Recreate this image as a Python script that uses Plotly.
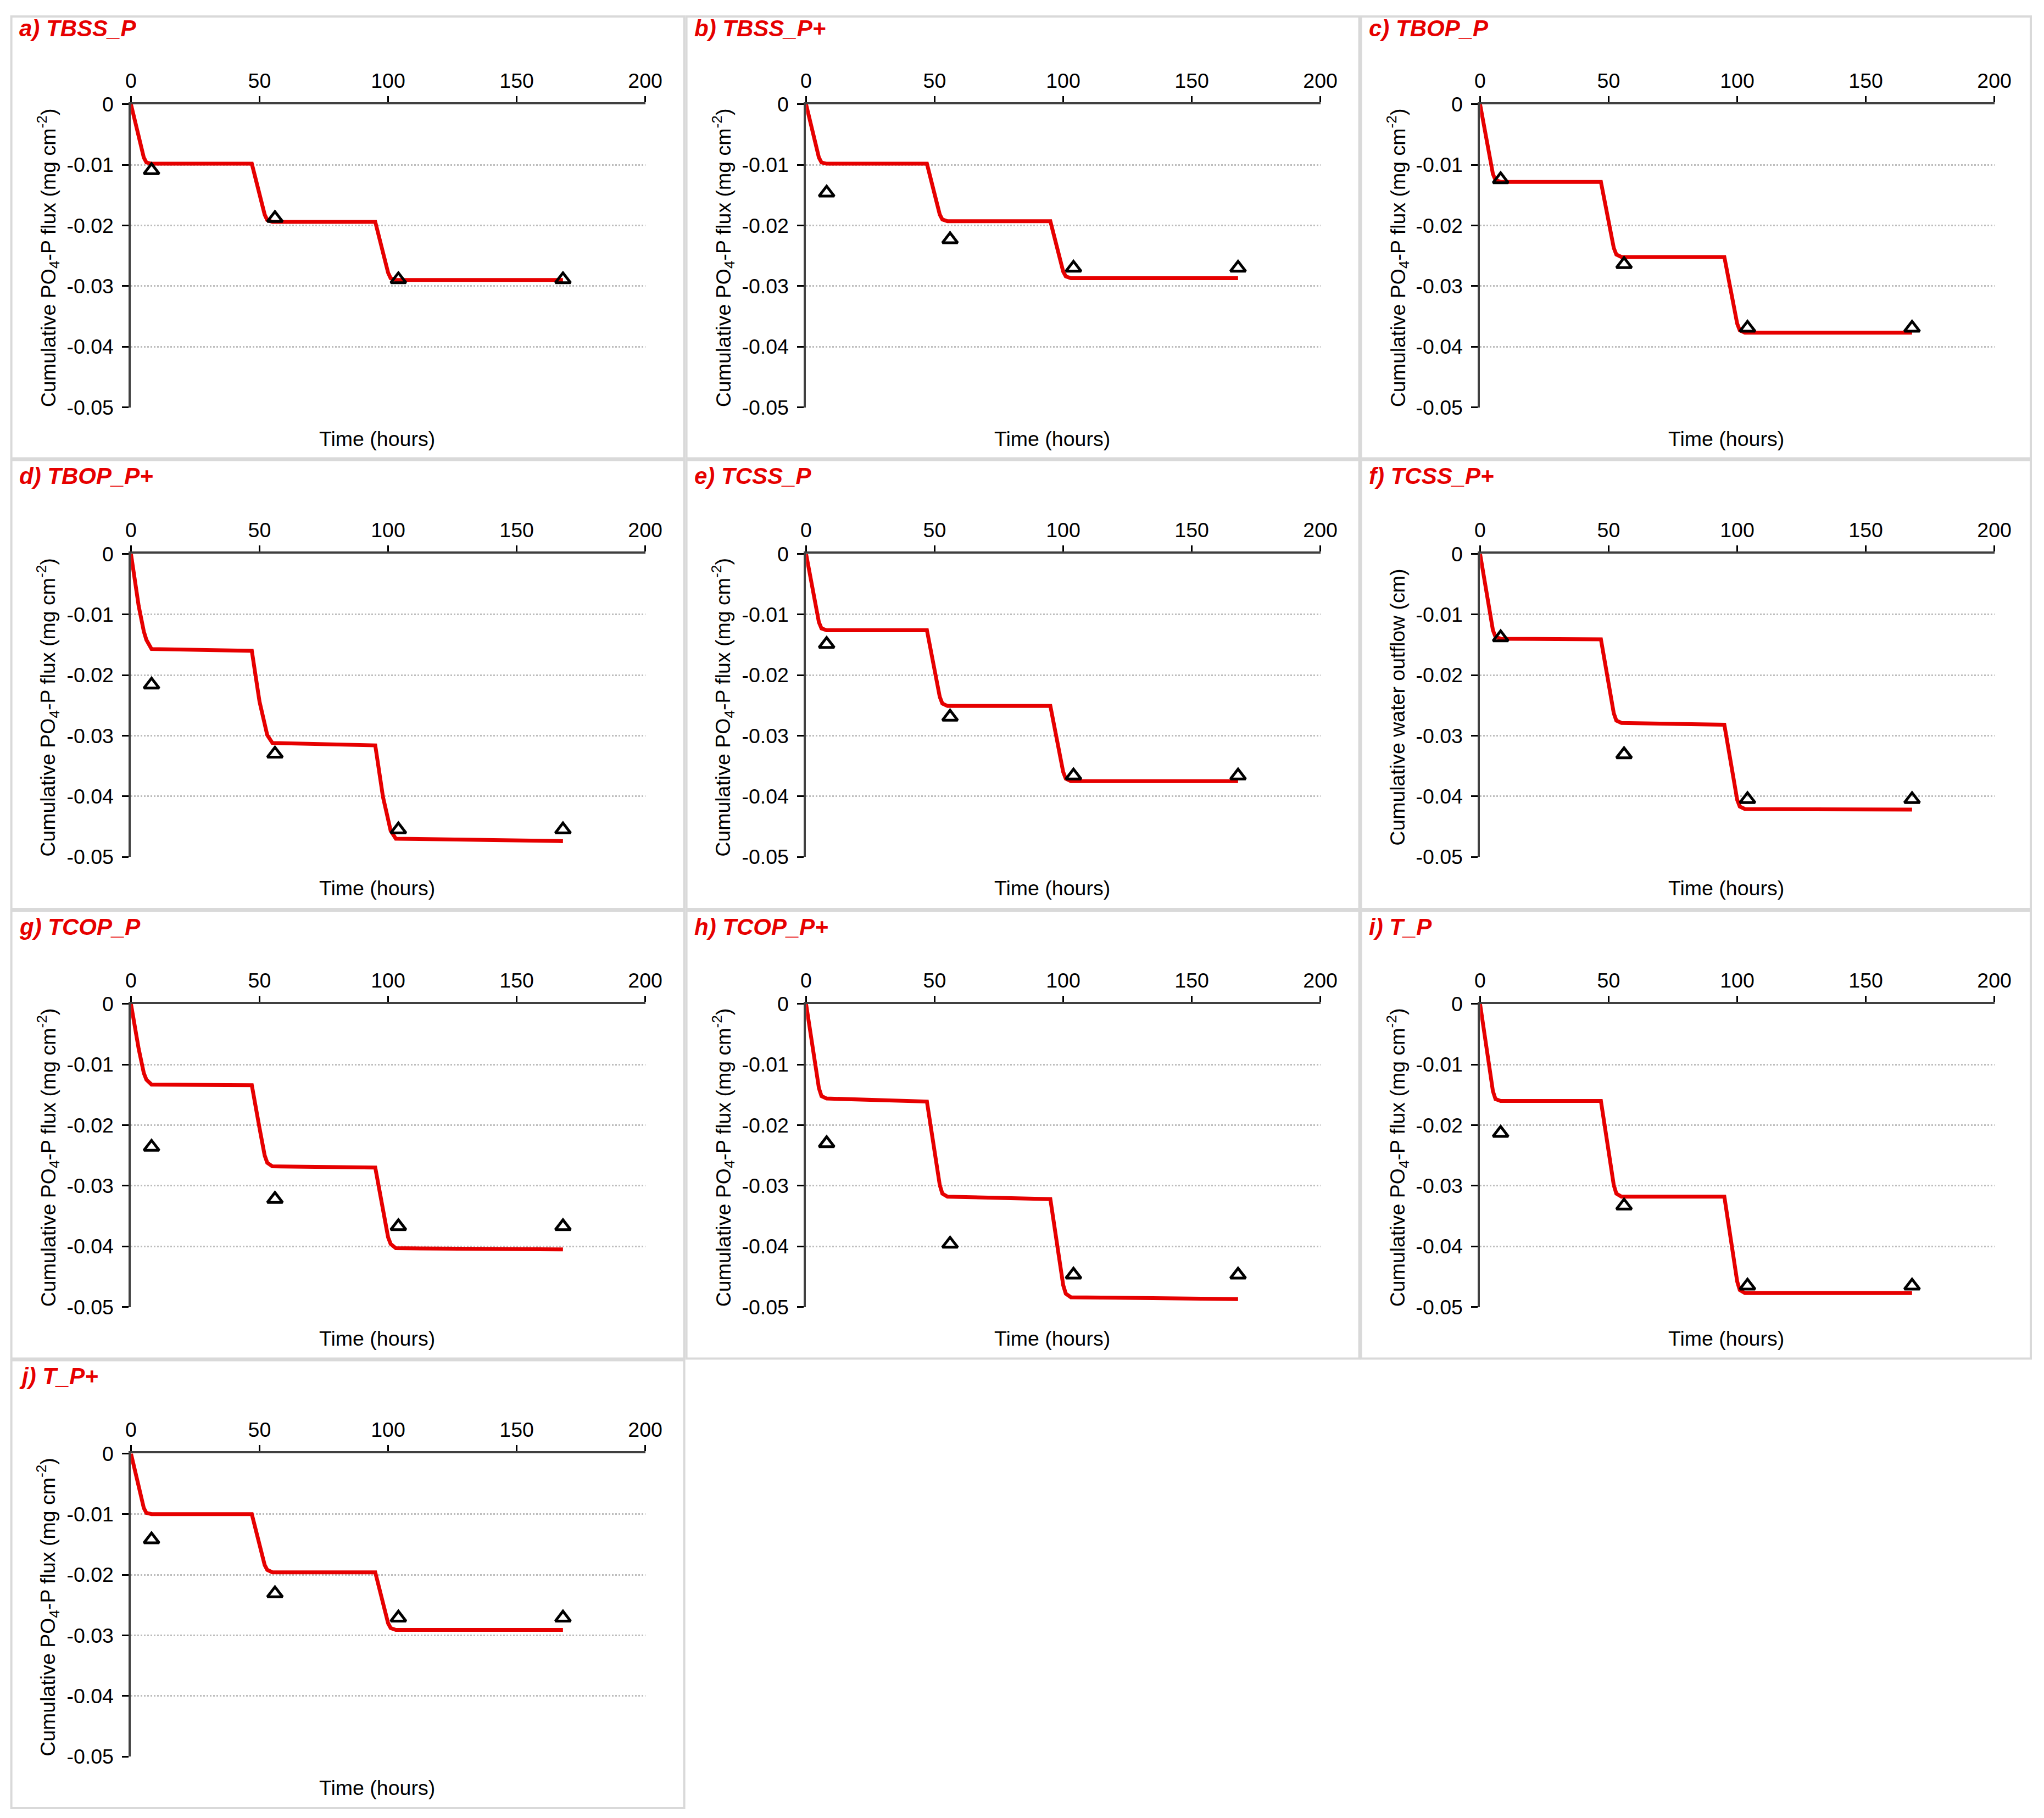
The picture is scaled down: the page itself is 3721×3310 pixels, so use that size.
import plotly.graph_objects as go

W, H = 3721, 3310

panel_labels = ["a) TBSS_P", "b) TBSS_P+", "c) TBOP_P", "d) TBOP_P+", "e) TCSS_P",
                "f) TCSS_P+", "g) TCOP_P", "h) TCOP_P+", "i) T_P", "j) T_P+"]
flux_title = "Cumulative PO<sub>4</sub>-P flux (mg cm<sup>-2</sup>)"
water_title = "Cumulative water outflow (cm)"
y_titles = [flux_title, flux_title, flux_title, flux_title, flux_title,
            water_title, flux_title, flux_title, flux_title, flux_title]

x_tick_vals = [0, 50, 100, 150, 200]
y_tick_vals = [0, -0.01, -0.02, -0.03, -0.04, -0.05]
y_tick_text = ["0", "-0.01", "-0.02", "-0.03", "-0.04", "-0.05"]

obs_time = [8, 56, 104, 168]
obs_a = [-0.0109, -0.0188, -0.0289, -0.0289]
obs_b = [-0.0146, -0.0223, -0.0270, -0.0270]
obs_c = [-0.0124, -0.0264, -0.0369, -0.0369]
obs_d = [-0.0216, -0.0330, -0.0455, -0.0455]
obs_e = [-0.0149, -0.0269, -0.0366, -0.0366]
obs_f = [-0.0138, -0.0331, -0.0405, -0.0405]
obs_g = [-0.0236, -0.0322, -0.0367, -0.0367]
obs_h = [-0.0230, -0.0396, -0.0447, -0.0447]
obs_i = [-0.0213, -0.0333, -0.0465, -0.0465]
obs_j = [-0.0142, -0.0231, -0.0271, -0.0271]

model_time = [0, 3, 5, 6, 8, 47, 50, 52, 53, 55, 95, 98, 100, 101, 103, 168]
mod_a = [0, -0.0054, -0.0088, -0.0096, -0.0098, -0.0098, -0.0148, -0.0182, -0.0191, -0.0194, -0.0194, -0.0244, -0.0278, -0.0287, -0.0290, -0.0290]
mod_b = [0, -0.0054, -0.0088, -0.0096, -0.0098, -0.0098, -0.0147, -0.0182, -0.0190, -0.0193, -0.0193, -0.0242, -0.0276, -0.0284, -0.0287, -0.0287]
mod_c = [0, -0.0070, -0.0115, -0.0125, -0.0128, -0.0128, -0.0192, -0.0237, -0.0248, -0.0252, -0.0252, -0.0317, -0.0362, -0.0373, -0.0377, -0.0377]
mod_d = [0, -0.0086, -0.0128, -0.0142, -0.0157, -0.0160, -0.0244, -0.0285, -0.0299, -0.0312, -0.0316, -0.0401, -0.0442, -0.0457, -0.0470, -0.0474]
mod_e = [0, -0.0069, -0.0113, -0.0123, -0.0126, -0.0126, -0.0191, -0.0236, -0.0247, -0.0251, -0.0251, -0.0315, -0.0360, -0.0371, -0.0375, -0.0375]
mod_f = [0, -0.0077, -0.0126, -0.0137, -0.0140, -0.0141, -0.0213, -0.0263, -0.0275, -0.0279, -0.0282, -0.0356, -0.0406, -0.0417, -0.0421, -0.0422]
mod_g = [0, -0.0074, -0.0114, -0.0125, -0.0133, -0.0134, -0.0205, -0.0250, -0.0262, -0.0268, -0.0270, -0.0340, -0.0385, -0.0396, -0.0403, -0.0405]
mod_h = [0, -0.0085, -0.0139, -0.0152, -0.0156, -0.0161, -0.0243, -0.0299, -0.0313, -0.0318, -0.0322, -0.0406, -0.0464, -0.0478, -0.0484, -0.0487]
mod_i = [0, -0.0088, -0.0144, -0.0157, -0.0160, -0.0160, -0.0242, -0.0299, -0.0313, -0.0318, -0.0318, -0.0401, -0.0458, -0.0472, -0.0477, -0.0477]
mod_j = [0, -0.0055, -0.0090, -0.0098, -0.0100, -0.0100, -0.0150, -0.0184, -0.0192, -0.0196, -0.0196, -0.0245, -0.0280, -0.0288, -0.0291, -0.0291]

observed = [obs_a, obs_b, obs_c, obs_d, obs_e, obs_f, obs_g, obs_h, obs_i, obs_j]
modelled = [mod_a, mod_b, mod_c, mod_d, mod_e, mod_f, mod_g, mod_h, mod_i, mod_j]

# target layout geometry (pixels in the final picture)
panel_left = [18, 1248, 2477]
panel_right = [1244, 2474, 3703]
panel_top = [19, 834, 1655, 2474]
panel_bottom = [831, 1652, 2471, 3290]
plot_x0 = [236, 1466, 2694]
plot_x1 = [1173, 2403, 3631]
plot_y0 = [186, 1005, 1825, 2644]
plot_y1 = [738, 1557, 2377, 3196]

# compensation for the page framing seen in the rendered picture
SX, OX = 0.9898, 15.4
SY, OY = 0.9879, 25.0


def TX(x):
    return min(max((x - OX) / SX, 1.0), W - 1.0)


def TY(y):
    return min(max((y - OY) / SY, 1.0), H - 1.0)


def px(x):
    return TX(x) / W


def py(y):
    return 1 - TY(y) / H


FONT = "Liberation Sans, Arial, sans-serif"
RED = "#e60000"
AXC = "#404040"
FS = 37.5

fig = go.Figure()
shapes = []
annotations = []
layout_axes = {}

for k in range(10):
    r, c = divmod(k, 3)
    n = k + 1
    xa = "x" if n == 1 else f"x{n}"
    ya = "y" if n == 1 else f"y{n}"
    xkey = "xaxis" if n == 1 else f"xaxis{n}"
    ykey = "yaxis" if n == 1 else f"yaxis{n}"

    fig.add_trace(go.Scatter(x=model_time, y=modelled[k], mode="lines",
                             line=dict(color=RED, width=7), xaxis=xa, yaxis=ya,
                             showlegend=False, hoverinfo="skip"))
    fig.add_trace(go.Scatter(x=obs_time, y=observed[k], mode="markers",
                             marker=dict(symbol="triangle-up-open", size=24, color="black",
                                         line=dict(color="black", width=5)),
                             xaxis=xa, yaxis=ya, showlegend=False, cliponaxis=False))

    layout_axes[xkey] = dict(
        domain=[px(plot_x0[c]), px(plot_x1[c])], anchor=ya, side="top",
        range=[0, 200], tickvals=x_tick_vals, ticktext=[str(v) for v in x_tick_vals],
        ticks="outside", ticklen=11, tickwidth=3, tickcolor="black",
        showline=True, linecolor=AXC, linewidth=4, showgrid=False, zeroline=False,
        tickfont=dict(family=FONT, size=FS, color="black"), fixedrange=True)
    layout_axes[ykey] = dict(
        domain=[py(plot_y1[r]), py(plot_y0[r])], anchor=xa,
        range=[-0.05, 0], tickvals=y_tick_vals, ticktext=y_tick_text,
        ticks="outside", ticklen=12, tickwidth=3, tickcolor="black",
        showline=True, linecolor=AXC, linewidth=4, zeroline=False,
        showgrid=True, gridcolor="#bdbdbd", gridwidth=3, griddash="dot",
        ticklabelstandoff=8,
        tickfont=dict(family=FONT, size=FS, color="black"), fixedrange=True)

    shapes.append(dict(type="rect", xref="paper", yref="paper",
                       x0=px(panel_left[c]), x1=px(panel_right[c]),
                       y0=py(panel_bottom[r]), y1=py(panel_top[r]),
                       line=dict(color="#d9d9d9", width=4), fillcolor="rgba(0,0,0,0)", layer="below"))

    annotations.append(dict(text=f"<b><i>{panel_labels[k]}</i></b>", xref="paper", yref="paper",
                            x=px(panel_left[c] + 12), y=py(panel_top[r] + 29),
                            xanchor="left", yanchor="middle", showarrow=False,
                            font=dict(family=FONT, size=42, color=RED)))
    annotations.append(dict(text=y_titles[k], xref="paper", yref="paper",
                            x=px(panel_left[c] + 67), y=py((plot_y0[r] + plot_y1[r]) / 2 + 4),
                            xanchor="center", yanchor="middle", textangle=-90, showarrow=False,
                            font=dict(family=FONT, size=FS, color="black")))
    annotations.append(dict(text="Time (hours)", xref="paper", yref="paper",
                            x=px((plot_x0[c] + plot_x1[c]) / 2 - 20), y=py(plot_y1[r] + 57),
                            xanchor="center", yanchor="middle", showarrow=False,
                            font=dict(family=FONT, size=FS, color="black")))

fig.update_layout(width=W, height=H, margin=dict(l=0, r=0, t=0, b=0),
                  paper_bgcolor="white", plot_bgcolor="white",
                  shapes=shapes, annotations=annotations, **layout_axes)

fig.write_html("out.html")
